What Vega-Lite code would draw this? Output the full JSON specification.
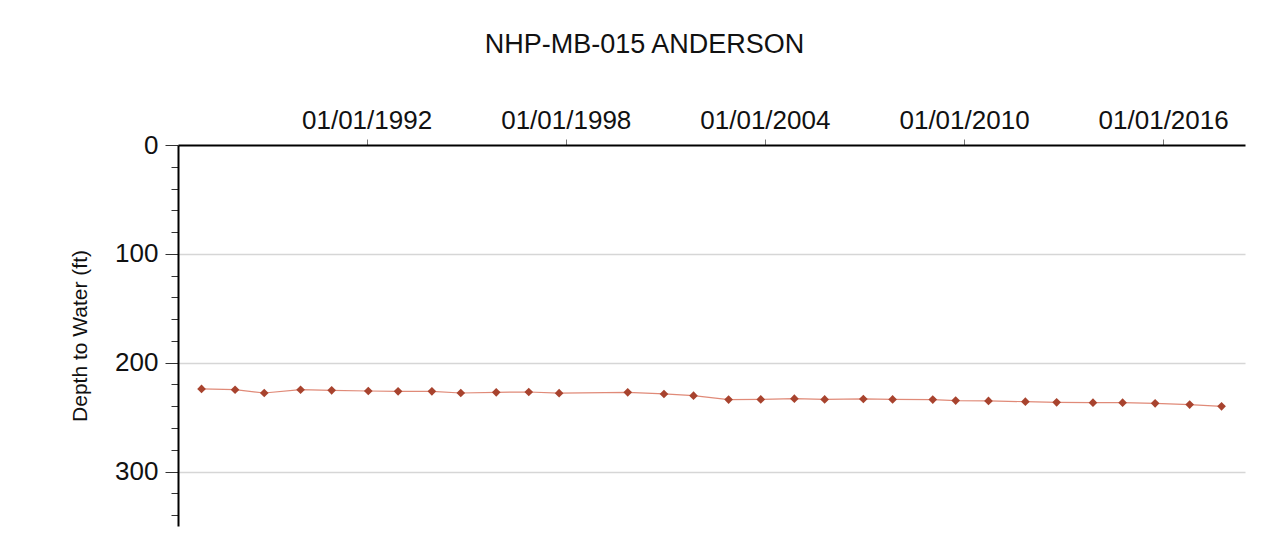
{
  "$schema": "https://vega.github.io/schema/vega-lite/v6.json",
  "width": 1067,
  "height": 381,
  "autosize": "none",
  "padding": {"left": 178, "top": 145, "right": 38, "bottom": 14},
  "background": "white",
  "config": {
    "view": {"stroke": null},
    "font": "Liberation Sans"
  },
  "title": {
    "text": "NHP-MB-015 ANDERSON",
    "font": "Liberation Sans",
    "fontSize": 27,
    "fontWeight": "normal",
    "color": "#111111",
    "anchor": "middle",
    "frame": "group",
    "dx": -67,
    "offset": 48
  },
  "data": {
    "values": [
      {"date": "1987-01-11", "depth": 224.1},
      {"date": "1988-01-15", "depth": 224.8},
      {"date": "1988-12-01", "depth": 227.8},
      {"date": "1990-01-05", "depth": 224.8},
      {"date": "1990-12-13", "depth": 225.4},
      {"date": "1992-01-20", "depth": 226.0},
      {"date": "1992-12-13", "depth": 226.3},
      {"date": "1993-12-20", "depth": 226.3},
      {"date": "1994-11-03", "depth": 227.8},
      {"date": "1995-11-28", "depth": 227.2},
      {"date": "1996-11-20", "depth": 226.9},
      {"date": "1997-10-20", "depth": 228.0},
      {"date": "1999-11-14", "depth": 227.2},
      {"date": "2000-12-17", "depth": 228.7},
      {"date": "2001-11-07", "depth": 230.3},
      {"date": "2002-11-28", "depth": 233.9},
      {"date": "2003-11-17", "depth": 233.7},
      {"date": "2004-11-21", "depth": 233.0},
      {"date": "2005-10-20", "depth": 233.7},
      {"date": "2006-12-20", "depth": 233.3},
      {"date": "2007-11-07", "depth": 233.7},
      {"date": "2009-01-22", "depth": 233.9},
      {"date": "2009-10-01", "depth": 234.8},
      {"date": "2010-09-27", "depth": 235.1},
      {"date": "2011-11-07", "depth": 235.8},
      {"date": "2012-10-16", "depth": 236.4},
      {"date": "2013-11-20", "depth": 236.7},
      {"date": "2014-10-12", "depth": 236.7},
      {"date": "2015-10-05", "depth": 237.3},
      {"date": "2016-10-19", "depth": 238.5},
      {"date": "2017-10-05", "depth": 240.1}
    ]
  },
  "encoding": {
    "x": {
      "field": "date",
      "type": "temporal",
      "scale": {
        "domain": [
          {"year": 1986, "month": 4, "date": 27},
          {"year": 2018, "month": 6, "date": 20}
        ],
        "nice": false
      },
      "axis": {
        "orient": "top",
        "title": null,
        "values": [
          {"year": 1992, "month": 1, "date": 1},
          {"year": 1998, "month": 1, "date": 1},
          {"year": 2004, "month": 1, "date": 1},
          {"year": 2010, "month": 1, "date": 1},
          {"year": 2016, "month": 1, "date": 1}
        ],
        "format": "%m/%d/%Y",
        "labelFont": "Liberation Sans",
        "labelFontSize": 26,
        "labelColor": "#111111",
        "labelPadding": 6,
        "domainColor": "#000000",
        "domainWidth": 2,
        "tickColor": "#777777",
        "tickSize": 6,
        "tickWidth": 1,
        "grid": false,
        "labelFlush": false,
        "labelOverlap": false
      }
    },
    "y": {
      "field": "depth",
      "type": "quantitative",
      "scale": {"domain": [0, 350], "reverse": true, "nice": false, "zero": true},
      "axis": {
        "title": "Depth to Water (ft)",
        "titleFont": "Liberation Sans",
        "titleFontSize": 21,
        "titleFontWeight": "normal",
        "titleColor": "#111111",
        "titlePadding": 24,
        "values": [0, 20, 40, 60, 80, 100, 120, 140, 160, 180, 200, 220, 240, 260, 280, 300, 320, 340],
        "labelExpr": "datum.value % 100 === 0 ? datum.label : ''",
        "labelFont": "Liberation Sans",
        "labelFontSize": 26,
        "labelColor": "#111111",
        "labelPadding": 7,
        "domainColor": "#000000",
        "domainWidth": 2,
        "tickColor": "#333333",
        "tickWidth": 1,
        "tickSize": {"condition": {"test": "datum.value % 100 === 0", "value": 13}, "value": 7},
        "grid": true,
        "gridColor": {"condition": {"test": "datum.value % 100 === 0 && datum.value > 0", "value": "#d6d6d6"}, "value": "rgba(0,0,0,0)"},
        "gridWidth": 1.5,
        "labelOverlap": false
      }
    }
  },
  "layer": [
    {
      "mark": {"type": "line", "color": "#e08a78", "strokeWidth": 1.2}
    },
    {
      "mark": {"type": "point", "shape": "diamond", "filled": true, "color": "#a8432e", "size": 75, "opacity": 1}
    }
  ]
}
